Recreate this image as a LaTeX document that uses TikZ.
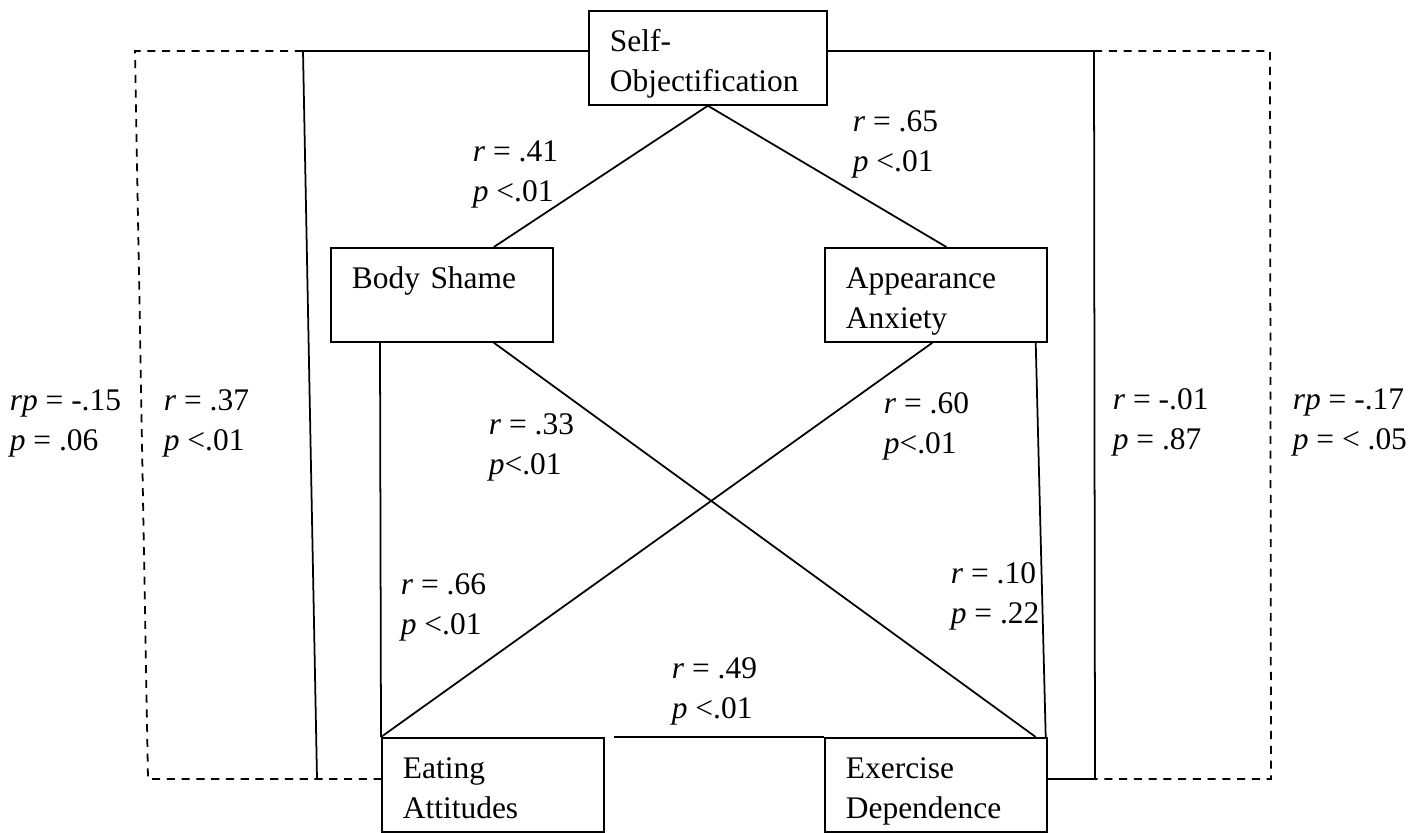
\documentclass[tikz,border=0pt]{standalone}
\usepackage{fontspec}
\setmainfont{Liberation Serif}
\begin{document}
\begin{tikzpicture}[x=0.02cm, y=-0.02cm, line width=1pt,
  font=\fontsize{17.9pt}{22.5pt}\selectfont,
  box/.style={draw, anchor=north west, inner xsep=0.42cm, inner ysep=0pt, text width=3.6cm, align=left, text height=0.82cm, text depth=1.06cm},
  lab/.style={anchor=north west, inner sep=0pt, align=left},
  partial/.style={dash pattern=on 4.6pt off 3.8pt}]
\useasboundingbox (0,0) rectangle (1422,832);

\node[box, text width=3.92cm] (selfobj) at (588,10) {Self-\\Objectification};
\node[box] (shame) at (330,247) {Body Shame};
\node[box] (anxiety) at (824,247) {Appearance\\Anxiety};
\node[box] (eating) at (381,737) {Eating\\Attitudes};
\node[box] (exercise) at (824,737) {Exercise\\Dependence};

\draw (selfobj.south) -- ([xshift=1.04cm]shame.north);
\draw (selfobj.south) -- ([xshift=0.21cm]anxiety.north);
\draw ([xshift=1cm]shame.south west) -- (eating.north west);
\draw ([xshift=1.04cm]shame.south) -- ([xshift=-0.24cm]exercise.north east);
\draw ([xshift=-0.07cm]anxiety.south) -- (eating.north west);
\draw ([xshift=-0.24cm]anxiety.south east) -- ([xshift=-0.04cm]exercise.north east);
\draw ([xshift=0.18cm]eating.north east) -- (exercise.north west);

\coordinate (ltop) at (303,51);
\coordinate (lbot) at (317,779);
\coordinate (ldtop) at (135,51);
\coordinate (ldbot) at (148,779);
\coordinate (rtop) at (1094,51);
\coordinate (rbot) at (1095,779);
\coordinate (rdtop) at (1270,51);
\coordinate (rdbot) at (1271,779);

\draw (selfobj.west |- ltop) -- (ltop) -- (lbot);
\draw[partial] (ltop) -- (ldtop) -- (ldbot) -- (eating.west |- ldbot);
\draw (selfobj.east |- rtop) -- (rtop) -- (rbot) -- (exercise.east |- rbot);
\draw[partial] (rtop) -- (rdtop) -- (rdbot) -- (rbot);

\node[lab] (r41) at (472,140) {\textit{r} = .41\\\textit{p} <.01};
\node[lab] (r65) at (852,110) {\textit{r} = .65\\\textit{p} <.01};
\node[lab] (rp15) at (9,389) {\textit{rp} = -.15\\\textit{p} = .06};
\node[lab] (r37) at (163,389) {\textit{r} = .37\\\textit{p} <.01};
\node[lab] (r33) at (488,413) {\textit{r} = .33\\\textit{p}<.01};
\node[lab] (r60) at (883,392) {\textit{r} = .60\\\textit{p}<.01};
\node[lab] (r01) at (1112,388) {\textit{r} = -.01\\\textit{p} = .87};
\node[lab] (rp17) at (1292,388) {\textit{rp} = -.17\\\textit{p} = < .05};
\node[lab] (r66) at (400,573) {\textit{r} = .66\\\textit{p} <.01};
\node[lab] (r10) at (950,562) {\textit{r} = .10\\\textit{p} = .22};
\node[lab] (r49) at (671,657) {\textit{r} = .49\\\textit{p} <.01};

\end{tikzpicture}
\end{document}
